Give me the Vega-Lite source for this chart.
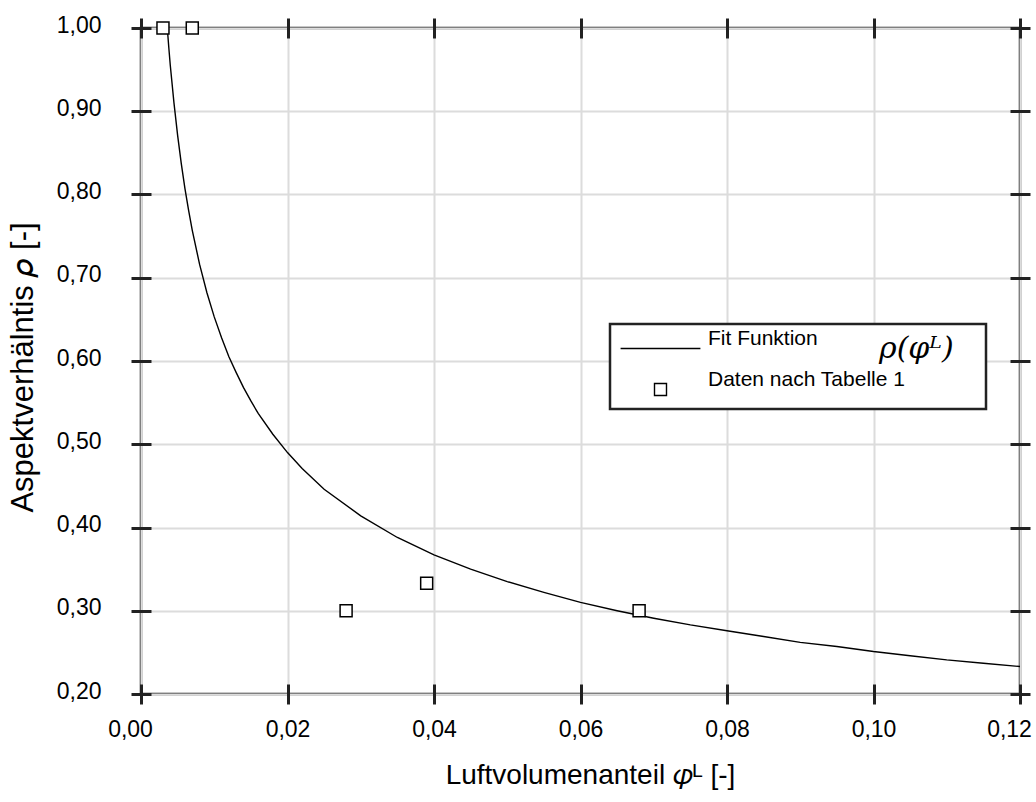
{
  "$schema": "https://vega.github.io/schema/vega-lite/v6.json",
  "width": 879,
  "height": 666,
  "autosize": "none",
  "padding": {"left": 141, "top": 28, "right": 16, "bottom": 108},
  "background": "white",
  "config": {
    "locale": {"number": {"decimal": ",", "thousands": ".", "grouping": [3], "currency": ["", " €"]}},
    "view": {"stroke": "#222222", "strokeWidth": 2.5},
    "font": "Liberation Sans"
  },
  "datasets": {
    "fit": [
      {"phi": 0.0035, "rho": 1.010, "serie": "Fit Funktion"},
      {"phi": 0.0038, "rho": 0.976, "serie": "Fit Funktion"},
      {"phi": 0.0040, "rho": 0.955, "serie": "Fit Funktion"},
      {"phi": 0.0045, "rho": 0.910, "serie": "Fit Funktion"},
      {"phi": 0.0050, "rho": 0.871, "serie": "Fit Funktion"},
      {"phi": 0.0055, "rho": 0.837, "serie": "Fit Funktion"},
      {"phi": 0.0060, "rho": 0.807, "serie": "Fit Funktion"},
      {"phi": 0.0065, "rho": 0.781, "serie": "Fit Funktion"},
      {"phi": 0.0070, "rho": 0.757, "serie": "Fit Funktion"},
      {"phi": 0.0080, "rho": 0.716, "serie": "Fit Funktion"},
      {"phi": 0.0090, "rho": 0.682, "serie": "Fit Funktion"},
      {"phi": 0.0100, "rho": 0.653, "serie": "Fit Funktion"},
      {"phi": 0.0110, "rho": 0.628, "serie": "Fit Funktion"},
      {"phi": 0.0120, "rho": 0.605, "serie": "Fit Funktion"},
      {"phi": 0.0130, "rho": 0.586, "serie": "Fit Funktion"},
      {"phi": 0.0140, "rho": 0.568, "serie": "Fit Funktion"},
      {"phi": 0.0150, "rho": 0.552, "serie": "Fit Funktion"},
      {"phi": 0.0160, "rho": 0.537, "serie": "Fit Funktion"},
      {"phi": 0.0180, "rho": 0.512, "serie": "Fit Funktion"},
      {"phi": 0.0200, "rho": 0.490, "serie": "Fit Funktion"},
      {"phi": 0.0220, "rho": 0.471, "serie": "Fit Funktion"},
      {"phi": 0.0250, "rho": 0.446, "serie": "Fit Funktion"},
      {"phi": 0.0300, "rho": 0.414, "serie": "Fit Funktion"},
      {"phi": 0.0350, "rho": 0.388, "serie": "Fit Funktion"},
      {"phi": 0.0400, "rho": 0.367, "serie": "Fit Funktion"},
      {"phi": 0.0450, "rho": 0.350, "serie": "Fit Funktion"},
      {"phi": 0.0500, "rho": 0.335, "serie": "Fit Funktion"},
      {"phi": 0.0550, "rho": 0.322, "serie": "Fit Funktion"},
      {"phi": 0.0600, "rho": 0.310, "serie": "Fit Funktion"},
      {"phi": 0.0650, "rho": 0.300, "serie": "Fit Funktion"},
      {"phi": 0.0700, "rho": 0.291, "serie": "Fit Funktion"},
      {"phi": 0.0750, "rho": 0.283, "serie": "Fit Funktion"},
      {"phi": 0.0800, "rho": 0.276, "serie": "Fit Funktion"},
      {"phi": 0.0850, "rho": 0.269, "serie": "Fit Funktion"},
      {"phi": 0.0900, "rho": 0.262, "serie": "Fit Funktion"},
      {"phi": 0.0950, "rho": 0.257, "serie": "Fit Funktion"},
      {"phi": 0.1000, "rho": 0.251, "serie": "Fit Funktion"},
      {"phi": 0.1050, "rho": 0.246, "serie": "Fit Funktion"},
      {"phi": 0.1100, "rho": 0.241, "serie": "Fit Funktion"},
      {"phi": 0.1150, "rho": 0.237, "serie": "Fit Funktion"},
      {"phi": 0.1200, "rho": 0.233, "serie": "Fit Funktion"}
    ],
    "daten": [
      {"phi": 0.0030, "rho": 1.000, "serie": "Daten nach Tabelle 1"},
      {"phi": 0.0070, "rho": 1.000, "serie": "Daten nach Tabelle 1"},
      {"phi": 0.0280, "rho": 0.300, "serie": "Daten nach Tabelle 1"},
      {"phi": 0.0390, "rho": 0.333, "serie": "Daten nach Tabelle 1"},
      {"phi": 0.0680, "rho": 0.300, "serie": "Daten nach Tabelle 1"}
    ]
  },
  "resolve": {"axis": {"x": "independent", "y": "independent"}},
  "layer": [
    {
      "data": {"name": "fit"},
      "mark": {"type": "line", "strokeWidth": 1.4, "clip": true},
      "encoding": {
        "x": {
          "field": "phi", "type": "quantitative",
          "scale": {"domain": [0, 0.12], "nice": false, "zero": false},
          "axis": {
            "orient": "bottom", "values": [0, 0.02, 0.04, 0.06, 0.08, 0.1, 0.12], "format": ".2f",
            "domain": false, "offset": -10, "tickSize": 20, "tickWidth": 3, "tickColor": "#222222",
            "grid": true, "gridColor": "#dcdcdc", "gridWidth": 2,
            "labelFontSize": 23, "labelPadding": 14, "labelColor": "#000000", "labelFlush": false, "labelFont": "Liberation Sans",
            "labelOffset": {"condition": {"test": "datum.value < 0.001 || datum.value > 0.119", "value": -11}, "value": 0},
            "title": "Luftvolumenanteil 𝜑ᴸ [-]", "titleFontSize": 28, "titleFontWeight": "normal", "titleColor": "#000000", "titleFont": "Liberation Sans",
            "titleBaseline": "alphabetic", "titleY": 99, "titleX": 449
          }
        },
        "y": {
          "field": "rho", "type": "quantitative",
          "scale": {"domain": [0.2, 1.0], "nice": false, "zero": false},
          "axis": {
            "orient": "left", "values": [0.2, 0.3, 0.4, 0.5, 0.6, 0.7, 0.8, 0.9, 1.0], "format": ".2f",
            "domain": false, "offset": -10, "tickSize": 20, "tickWidth": 3, "tickColor": "#222222",
            "grid": true, "gridColor": "#dcdcdc", "gridWidth": 2,
            "labelFontSize": 23, "labelPadding": 30, "labelColor": "#000000", "labelFlush": false, "labelOffset": -3, "labelFont": "Liberation Sans",
            "title": "Aspektverhälntis 𝜌 [-]", "titleFontSize": 31, "titleFontWeight": "normal", "titleColor": "#000000", "titleFont": "Liberation Sans",
            "titleX": -128, "titleY": 339, "titleBaseline": "middle", "titleAlign": "center", "titleAngle": 270
          }
        },
        "stroke": {
          "field": "serie", "type": "nominal",
          "scale": {"domain": ["Fit Funktion", "Daten nach Tabelle 1"], "range": ["#000000", "#000000"]},
          "legend": {
            "orient": "none", "legendX": 469, "legendY": 296, "direction": "vertical",
            "title": "ρ(φᴸ)⠀", "titleOrient": "right", "titleFont": "DejaVu Serif", "titleFontStyle": "italic",
            "titleFontSize": 30, "titleFontWeight": "normal", "titlePadding": -26, "titleBaseline": "top", "titleAnchor": "start", "titleColor": "#000000",
            "strokeColor": "#222222", "fillColor": "white", "padding": 10,
            "labelFontSize": 21, "labelFont": "Liberation Sans", "labelColor": "#000000", "labelBaseline": "bottom",
            "labelOffset": 33, "labelLimit": 400,
            "symbolSize": 708, "symbolStrokeWidth": 1.4, "symbolOffset": 26, "rowPadding": 16,
            "encoding": {
              "legend": {"strokeWidth": {"value": 2.5}},
              "symbols": {"stroke": {"value": "#000000"}, "fill": {"value": "white"}, "strokeWidth": {"value": 1.4}}
            }
          }
        }
      }
    },
    {
      "data": {"name": "daten"},
      "mark": {"type": "point", "size": 708, "fill": "white", "fillOpacity": 1, "opacity": 1, "strokeWidth": 1.5},
      "encoding": {
        "x": {
          "field": "phi", "type": "quantitative",
          "axis": {
            "orient": "top", "values": [0, 0.02, 0.04, 0.06, 0.08, 0.1, 0.12],
            "domain": false, "offset": -10, "tickSize": 20, "tickWidth": 3, "tickColor": "#222222",
            "grid": false, "labels": false, "title": null
          }
        },
        "y": {
          "field": "rho", "type": "quantitative",
          "axis": {
            "orient": "right", "values": [0.2, 0.3, 0.4, 0.5, 0.6, 0.7, 0.8, 0.9, 1.0],
            "domain": false, "offset": -10, "tickSize": 20, "tickWidth": 3, "tickColor": "#222222",
            "grid": false, "labels": false, "title": null
          }
        },
        "stroke": {"field": "serie", "type": "nominal"},
        "shape": {
          "field": "serie", "type": "nominal",
          "scale": {"domain": ["Fit Funktion", "Daten nach Tabelle 1"], "range": ["M-3,0H3", "M-0.451,-0.451H0.451V0.451H-0.451Z"]},
          "legend": {
            "orient": "none", "legendX": 469, "legendY": 296, "direction": "vertical",
            "title": "ρ(φᴸ)⠀", "titleOrient": "right", "titleFont": "DejaVu Serif", "titleFontStyle": "italic",
            "titleFontSize": 30, "titleFontWeight": "normal", "titlePadding": -26, "titleBaseline": "top", "titleAnchor": "start", "titleColor": "#000000",
            "strokeColor": "#222222", "fillColor": "white", "padding": 10,
            "labelFontSize": 21, "labelFont": "Liberation Sans", "labelColor": "#000000", "labelBaseline": "bottom",
            "labelOffset": 33, "labelLimit": 400,
            "symbolSize": 708, "symbolStrokeWidth": 1.4, "symbolOffset": 26, "rowPadding": 16,
            "encoding": {
              "legend": {"strokeWidth": {"value": 2.5}},
              "symbols": {"stroke": {"value": "#000000"}, "fill": {"value": "white"}, "strokeWidth": {"value": 1.4}}
            }
          }
        }
      }
    }
  ]
}
